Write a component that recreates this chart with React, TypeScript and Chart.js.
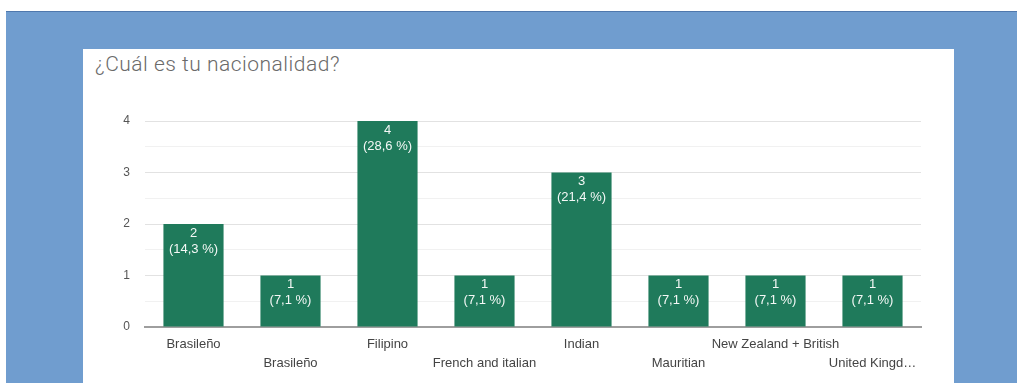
import React, { useEffect, useRef } from "react";
import { Chart, registerables } from "chart.js";

Chart.register(...registerables);

const title = "¿Cuál es tu nacionalidad?";
const categories = [
  "Brasileño",
  "Brasileño",
  "Filipino",
  "French and italian",
  "Indian",
  "Mauritian",
  "New Zealand + British",
  "United Kingd…",
];
const counts = [2, 1, 4, 1, 3, 1, 1, 1];
const yTicks = [0, 1, 2, 3, 4];

const BAR = "#1f7a5b";
const FONT = "Arial, 'Liberation Sans', sans-serif";

const barLabelPlugin = {
  id: "barLabels",
  afterDatasetsDraw(chart: any) {
    const { ctx } = chart;
    const meta = chart.getDatasetMeta(0);
    const data = chart.data.datasets[0].data as number[];
    const total = data.reduce((a, b) => a + b, 0);
    ctx.save();
    ctx.fillStyle = "#f4f8f6";
    ctx.font = `13px ${FONT}`;
    ctx.textAlign = "center";
    ctx.textBaseline = "middle";
    meta.data.forEach((bar: any, i: number) => {
      const v = data[i];
      const pct = ((v / total) * 100).toFixed(1).replace(".", ",");
      ctx.fillText(String(v), bar.x, bar.y + 9);
      ctx.fillText(`(${pct} %)`, bar.x, bar.y + 25);
    });
    ctx.restore();
  },
};

export default function App() {
  const ref = useRef<HTMLCanvasElement>(null);
  useEffect(() => {
    if (!ref.current) return;
    const chart = new Chart(ref.current, {
      type: "bar",
      data: {
        labels: categories,
        datasets: [
          {
            data: counts,
            backgroundColor: BAR,
            borderWidth: 0,
            barPercentage: 0.62,
            categoryPercentage: 1,
          },
        ],
      },
      options: {
        animation: false,
        responsive: false,
        maintainAspectRatio: false,
        layout: { padding: { left: 0, right: 33, top: 72, bottom: 0 } },
        plugins: {
          legend: { display: false },
          tooltip: { enabled: false },
          title: { display: false },
        },
        scales: {
          x: {
            grid: { display: false, drawTicks: false },
            border: { display: true, color: "#9e9e9e", width: 2 },
            ticks: {
              autoSkip: false,
              maxRotation: 0,
              minRotation: 0,
              padding: 8,
              color: "#444444",
              font: { family: FONT, size: 13, lineHeight: 19 / 13 },
              callback: function (this: any, _v: any, i: number) {
                const l = categories[i];
                return i % 2 === 1 ? ["", l] : l;
              },
            },
            afterFit(scale: any) {
              scale.height = 56;
            },
          },
          y: {
            min: 0,
            max: 4,
            border: { display: false },
            grid: {
              drawTicks: false,
              color: (c: any) =>
                c.tick && Number.isInteger(c.tick.value) ? "#e2e2e2" : "#f1f1f1",
              lineWidth: 1,
            },
            ticks: {
              stepSize: 0.5,
              padding: 15,
              color: "#555555",
              font: { family: FONT, size: 12 },
              callback: (v: any) => (yTicks.includes(Number(v)) ? String(v) : ""),
            },
            afterFit(scale: any) {
              scale.width = 62;
            },
          },
        },
      },
      plugins: [barLabelPlugin],
    });
    return () => chart.destroy();
  }, []);

  return (
    <div
      style={{
        position: "fixed",
        left: 0,
        top: 0,
        width: 1017,
        height: 383,
        background: "#ffffff",
        overflow: "hidden",
      }}
    >
      <div
        style={{
          position: "absolute",
          left: 6,
          top: 11,
          width: 1011,
          height: 372,
          background: "#709dcf",
          borderTop: "1px solid #4f78ad",
          boxSizing: "border-box",
        }}
      />
      <div
        style={{
          position: "absolute",
          left: 83,
          top: 49,
          width: 871,
          height: 334,
          background: "#ffffff",
        }}
      >
        <div
          style={{
            position: "absolute",
            left: 12,
            top: 3,
            fontFamily: "Roboto, 'Open Sans', Arial, sans-serif",
            fontWeight: 300,
            fontSize: 21,
            letterSpacing: 0.5,
            color: "#6a6a6a",
            whiteSpace: "nowrap",
          }}
        >
          {title}
        </div>
        <canvas
          ref={ref}
          width={871}
          height={334}
          style={{ position: "absolute", left: 0, top: 0, width: 871, height: 334 }}
        />
      </div>
    </div>
  );
}
